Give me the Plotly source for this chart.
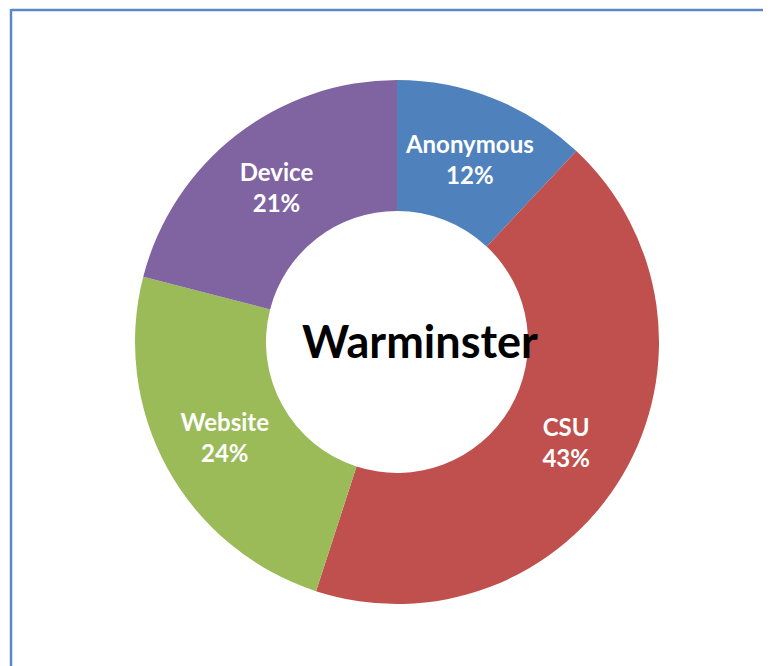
import plotly.graph_objects as go

labels = ["Anonymous", "CSU", "Website", "Device"]
values = [12, 43, 24, 21]
colors = ["#4F81BD", "#C0504D", "#9BBB59", "#8064A2"]
center_title = "Warminster"

# page body has an 8px margin: figure occupies 763x658 starting at (8, 8)
OFF = 8
W, H = 771 - OFF, 666 - OFF
cx, cy, r = 397 - OFF, 342 - OFF, 262

fig = go.Figure(go.Pie(
    labels=labels,
    values=values,
    hole=0.5,
    sort=False,
    direction="clockwise",
    rotation=0,
    marker=dict(colors=colors, line=dict(width=0)),
    texttemplate="%{label}<br>%{percent:.0%}",
    textposition="inside",
    insidetextorientation="horizontal",
    textfont=dict(family="Lato", size=24, color="white", weight="bold"),
    domain=dict(x=[(cx - r) / W, (cx + r) / W], y=[1 - (cy + r) / H, 1 - (cy - r) / H]),
    showlegend=False,
))

tx, ty = 420 - OFF, 341 - OFF
bx, by = 11 - OFF, 10 - OFF
fig.update_layout(
    width=W, height=H,
    margin=dict(l=0, r=0, t=0, b=0),
    paper_bgcolor="white",
    uniformtext=dict(minsize=24, mode="show"),
    annotations=[dict(text=center_title, xref="paper", yref="paper", x=tx / W, y=1 - ty / H,
                      xanchor="center", yanchor="middle", showarrow=False,
                      font=dict(family="Lato", size=45, color="black", weight="bold"))],
    shapes=[
        dict(type="line", xref="paper", yref="paper", x0=bx / W, x1=1.01, y0=1 - by / H, y1=1 - by / H,
             line=dict(color="#5B87C5", width=2.5)),
        dict(type="line", xref="paper", yref="paper", x0=bx / W, x1=bx / W, y0=-0.01, y1=1 - (by - 1) / H,
             line=dict(color="#5B87C5", width=2.5)),
    ],
)

fig.write_html("out.html")
